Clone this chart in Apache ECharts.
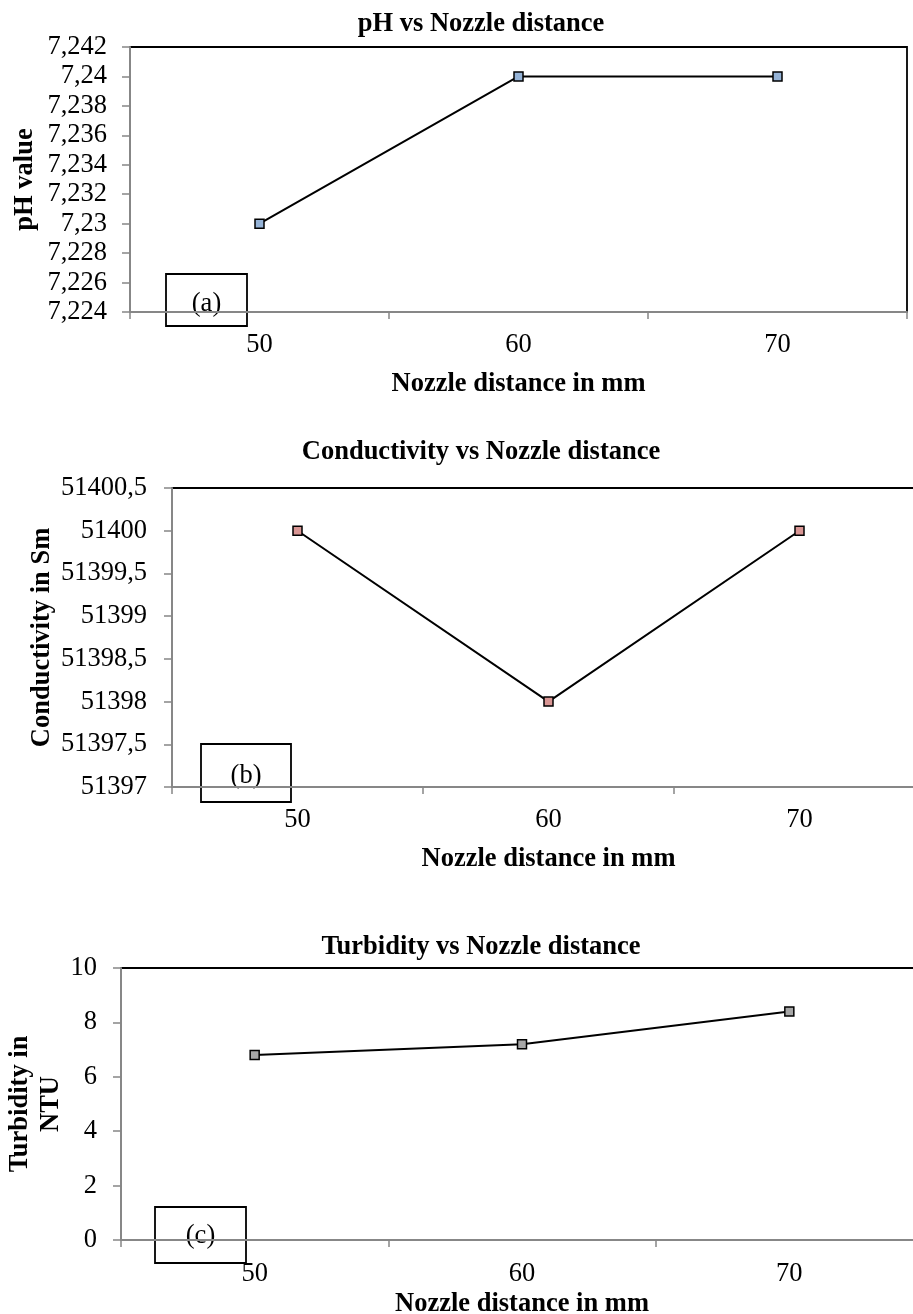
<!DOCTYPE html>
<html>
<head>
<meta charset="utf-8">
<script src="https://cdn.jsdelivr.net/npm/echarts@6/dist/echarts.min.js"></script>
<style>
html,body{margin:0;padding:0;background:#fff;}
#chart{width:913px;height:1314px;}
</style>
</head>
<body>
<div id="chart"></div>
<script>
// ---- data ----
var categories = ['50', '60', '70'];
var phValues = [7.230, 7.240, 7.240];
var conductivityValues = [51400, 51398, 51400];
var turbidityValues = [6.8, 7.2, 8.4];

var titles = ['pH vs Nozzle distance', 'Conductivity vs Nozzle distance', 'Turbidity vs Nozzle distance'];
var xName = 'Nozzle distance in mm';
var yNames = ['pH value', 'Conductivity in Sm', 'Turbidity in\nNTU'];
var panelLabels = ['(a)', '(b)', '(c)'];

var FONT = "'Liberation Serif', 'Times New Roman', serif";
var FS = 26.5;
var AXIS_GRAY = '#878787';

var chart = echarts.init(document.getElementById('chart'));

var grids = [
  {left: 130, top: 47, width: 777, height: 265},
  {left: 172, top: 488, width: 753, height: 299},
  {left: 121, top: 968, width: 802, height: 272}
];

var yCfg = [
  {min: 7.224, max: 7.242, interval: 0.002, dec: 3, nameGap: 89, margin: 23},
  {min: 51397, max: 51400.5, interval: 0.5, dec: 1, nameGap: 114, margin: 25},
  {min: 0, max: 10, interval: 2, dec: 0, nameGap: 54, margin: 24}
];
var xNameGaps = [59, 59, 51];
var xLabelMargins = [20, 20, 21];
var markerColors = ['#95B3D7', '#D99694', '#A6A6A6'];
var seriesData = [phValues, conductivityValues, turbidityValues];

function fmt(dec) {
  return function (v) {
    return String(+Number(v).toFixed(dec)).replace('.', ',');
  };
}

var option = {
  animation: false,
  backgroundColor: '#fff',
  title: [
    {text: titles[0], left: 476, top: 6},
    {text: titles[1], left: 476, top: 434},
    {text: titles[2], left: 476, top: 929}
  ].map(function (t) {
    t.textAlign = 'center';
    t.textStyle = {fontFamily: FONT, fontSize: FS, fontWeight: 'bold', color: '#000'};
    return t;
  }),
  grid: grids.map(function (g) {
    return Object.assign({show: true, borderColor: '#000', borderWidth: 1.8, backgroundColor: 'transparent',
                          outerBoundsMode: 'none', containLabel: false}, g);
  }),
  xAxis: grids.map(function (g, i) {
    return {
      type: 'category',
      gridIndex: i,
      data: categories,
      boundaryGap: true,
      name: xName,
      nameLocation: 'middle',
      nameGap: xNameGaps[i],
      nameMoveOverlap: false,
      nameTextStyle: {fontFamily: FONT, fontSize: FS, fontWeight: 'bold', color: '#000'},
      axisLine: {show: true, lineStyle: {color: AXIS_GRAY, width: 2}},
      axisTick: {show: true, length: 7, lineStyle: {color: AXIS_GRAY, width: 1.5}},
      axisLabel: {fontFamily: FONT, fontSize: FS, color: '#000', margin: xLabelMargins[i]},
      splitLine: {show: false}
    };
  }),
  yAxis: yCfg.map(function (c, i) {
    return {
      type: 'value',
      gridIndex: i,
      min: c.min,
      max: c.max,
      interval: c.interval,
      name: yNames[i],
      nameLocation: 'middle',
      nameGap: c.nameGap,
      nameMoveOverlap: false,
      nameTextStyle: {fontFamily: FONT, fontSize: FS, fontWeight: 'bold', color: '#000', lineHeight: 31},
      axisLine: {show: true, lineStyle: {color: AXIS_GRAY, width: 2}},
      axisTick: {show: true, length: 8, lineStyle: {color: AXIS_GRAY, width: 1.5}},
      axisLabel: {fontFamily: FONT, fontSize: FS, color: '#000', margin: c.margin, formatter: fmt(c.dec)},
      splitLine: {show: false}
    };
  }),
  series: seriesData.map(function (d, i) {
    return {
      type: 'line',
      xAxisIndex: i,
      yAxisIndex: i,
      data: d,
      symbol: 'rect',
      symbolSize: 9,
      showAllSymbol: true,
      lineStyle: {color: '#000', width: 2},
      itemStyle: {color: markerColors[i], borderColor: '#000', borderWidth: 1.5},
      z: 5
    };
  }),
  graphic: [
    {x: 166, y: 274, w: 81, h: 52, dy: 4},
    {x: 201, y: 744, w: 90, h: 58, dy: 3},
    {x: 155, y: 1207, w: 91, h: 56, dy: 1}
  ].map(function (b, i) {
    return {
      type: 'group',
      x: b.x,
      y: b.y,
      z: 100,
      children: [
        {type: 'rect', shape: {x: 0, y: 0, width: b.w, height: b.h},
         style: {fill: '#fff', stroke: '#000', lineWidth: 1.8}},
        {type: 'text', x: b.w / 2, y: b.h / 2 + b.dy,
         style: {text: panelLabels[i], fontFamily: FONT, fontSize: FS, fill: '#000',
                 textAlign: 'center', textVerticalAlign: 'middle'}}
      ]
    };
  })
};

chart.setOption(option);
</script>
</body>
</html>
